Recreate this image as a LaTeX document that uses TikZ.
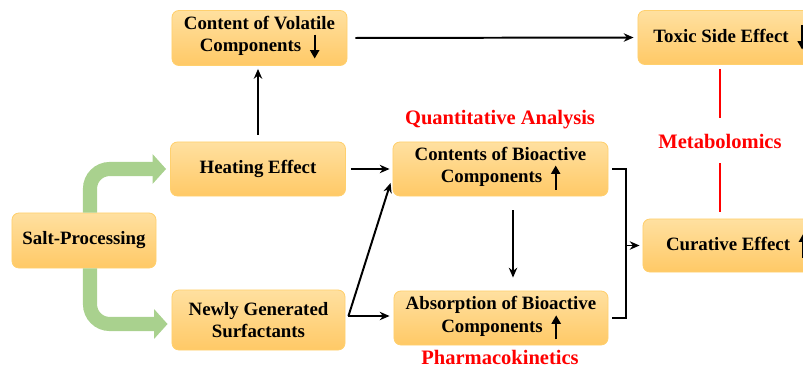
\documentclass[tikz,border=0pt]{standalone}
\usepackage{fontspec}
\setmainfont{Liberation Serif}
\usetikzlibrary{arrows.meta,positioning,calc}

\definecolor{boxtop}{RGB}{255,224,160}
\definecolor{boxbot}{RGB}{255,201,102}
\definecolor{boxline}{RGB}{255,208,110}
\definecolor{salt}{RGB}{169,209,142}

\newcommand{\up}{\hspace{0.22cm}\tikz[baseline=0pt, x=1cm, y=1cm]\draw[line width=1.3pt, -{Triangle[length=6pt,width=6.5pt]}] (0,-0.17) -- (0,0.43);}
\newcommand{\down}{\hspace{0.22cm}\tikz[baseline=0pt, x=1cm, y=1cm]\draw[line width=1.3pt, -{Triangle[length=6pt,width=6.5pt]}] (0,0.43) -- (0,-0.17);}

\tikzset{
  box/.style = {draw=boxline, line width=0.6pt, rounded corners=5pt,
    top color=boxtop, bottom color=boxbot, align=center,
    font=\fontsize{13.4}{15.6}\selectfont\bfseries, inner sep=0pt},
  blk/.style = {line width=1.4pt, -{Stealth[length=7pt,width=6pt]}},
  blkline/.style = {line width=1.4pt},
  greenarr/.style = {draw=salt, line width=10pt, rounded corners=14pt,
    -{Triangle[length=9.5pt,width=20.5pt]}},
  redlbl/.style = {text=red, font=\fontsize{14.6}{17}\selectfont\bfseries},
  redline/.style = {draw=red, line width=1.5pt}
}

\begin{document}
\begin{tikzpicture}[x=0.025cm, y=-0.025cm]
\clip (0,0) rectangle (803,368);

\node [box, minimum width=3.6cm, minimum height=1.375cm] (salt) at (84,240.5) {Salt-Processing};
\node [box, minimum width=4.375cm, minimum height=1.35cm] (heat) at (258,169) {Heating Effect};
\node [box, minimum width=4.325cm, minimum height=1.5cm] (newsurf) at (258.5,320) {Newly Generated\\Surfactants};
\node [box, minimum width=4.375cm, minimum height=1.375cm] (volatile) at (259.5,38) {Content of Volatile\\Components\down};
\node [box, minimum width=5.375cm, minimum height=1.35cm] (contents) at (500.5,169) {Contents of Bioactive\\Components\up};
\node [box, minimum width=5.35cm, minimum height=1.35cm] (absorb) at (501,318) {Absorption of Bioactive\\Components\up};
\node [box, minimum width=4.6cm, minimum height=1.35cm] (toxic) at (730,37.5) {Toxic Side Effect\down};
\node [box, minimum width=4.7cm, minimum height=1.325cm] (curative) at (737,245.5) {Curative Effect\up};

\node [redlbl] (quant) at (500,120) {Quantitative Analysis};
\node [redlbl] (pharma) at (500,357) {Pharmacokinetics};
\node [redlbl] (metab) at (720,141) {Metabolomics};

\draw [greenarr] ([xshift=0.15cm]salt.north) |- ([xshift=-0.1cm]heat.west);
\draw [greenarr] ([xshift=0.15cm]salt.south) |- ([xshift=-0.1cm,yshift=-0.1cm]newsurf.west);

\draw [blk, shorten <=0.175cm, shorten >=0.075cm] (heat.north) -- (heat.north |- volatile.south);
\draw [blk, shorten <=0.2cm, shorten >=0.1cm] (volatile.east) -- (toxic.west);
\draw [blk, shorten <=0.125cm, shorten >=0.075cm] (heat.east) -- (contents.west);

\coordinate (split) at ([xshift=0.075cm,yshift=0.1cm]newsurf.east);
\draw [blk] (split) -- ([xshift=-0.05cm,yshift=-0.35cm]contents.west);
\draw [blk] (split) -- ([xshift=-0.1cm]split -| absorb.west);
\draw [blk, shorten <=0.35cm, shorten >=0.325cm] ([xshift=0.3125cm]contents.south) -- ([xshift=0.3125cm]contents.south |- absorb.north);

\draw [blkline] ([xshift=0.1cm]contents.east) -- ++(0.35cm,0) coordinate (brtop) |- ([xshift=0.1cm]absorb.east);
\draw [blk, shorten >=0.075cm] (brtop |- curative.west) -- (curative.west);

\draw [redline] ([yshift=-0.1cm]metab.north |- toxic.south) -- ([yshift=0.275cm]metab.north);
\draw [redline] ([yshift=-0.25cm]metab.south) -- ([yshift=0.175cm]metab.south |- curative.north);
\end{tikzpicture}
\end{document}
